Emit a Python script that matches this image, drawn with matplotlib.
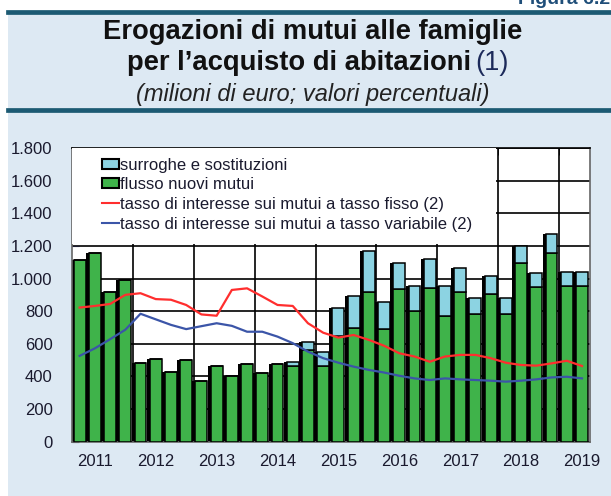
import matplotlib.pyplot as plt
from matplotlib.patches import Rectangle, Patch
from matplotlib.lines import Line2D
from matplotlib.ticker import FuncFormatter

plt.rcParams['font.family'] = ['Liberation Sans', 'DejaVu Sans']

# dati trimestrali 2011 T1 - 2019 T2
anni = ['2011', '2012', '2013', '2014', '2015', '2016', '2017', '2018', '2019']
nuovi_mutui = [1115, 1156, 920, 990, 485, 505, 430, 500,
               375, 462, 405, 477, 420, 477, 464, 565,
               464, 645, 696, 920, 690, 935, 798, 941,
               771, 920, 783, 906, 783, 1094, 947, 1156,
               955, 955]
totale = [1115, 1156, 920, 990, 485, 505, 430, 500,
          375, 462, 405, 477, 420, 477, 489, 614,
          548, 818, 894, 1166, 859, 1094, 955, 1119,
          955, 1066, 880, 1017, 880, 1200, 1033, 1274,
          1043, 1043]
surroghe = [t - n for t, n in zip(totale, nuovi_mutui)]
tasso_fisso = [4.11, 4.16, 4.22, 4.50, 4.55, 4.37, 4.35, 4.19,
               3.90, 3.86, 4.65, 4.70, 4.45, 4.19, 4.16, 3.63,
               3.34, 3.19, 3.27, 3.12, 2.94, 2.71, 2.61, 2.45,
               2.61, 2.66, 2.66, 2.56, 2.42, 2.35, 2.33, 2.40,
               2.48, 2.32]
tasso_variabile = [2.63, 2.86, 3.14, 3.43, 3.92, 3.75, 3.58, 3.45,
                   3.54, 3.63, 3.55, 3.37, 3.37, 3.22, 3.02, 2.76,
                   2.56, 2.42, 2.30, 2.20, 2.12, 2.02, 1.94, 1.89,
                   1.94, 1.91, 1.89, 1.87, 1.84, 1.87, 1.91, 1.97,
                   1.99, 1.94]

verde = '#3fb34a'
azzurro = '#8cd3e2'
rosso = '#ff2e2e'
blu = '#3b55a8'
sfondo = '#dde9f3'

fig = plt.figure(figsize=(6.11, 4.96), dpi=100)
fig.patch.set_facecolor('white')
fig.patches.append(Rectangle((8 / 611, 0), 1, 1 - 12 / 496, transform=fig.transFigure,
                             facecolor=sfondo, edgecolor='none', zorder=-5))
for yy in [1 - 12 / 496, 1 - 109.5 / 496]:
    fig.add_artist(Line2D([8 / 611, 1], [yy, yy], color='#1c5a73', lw=3.4))

fig.text(518 / 611, 1 + 1 / 496, 'Figura 6.2', fontsize=14, fontweight='bold',
         color='#1f4e79', ha='left', va='center')
fig.text(313 / 611, 1 - 32 / 496, 'Erogazioni di mutui alle famiglie', fontsize=19.7,
         fontweight='bold', ha='center', va='center', color='#111111')
fig.text(471 / 611, 1 - 63 / 496, 'per l’acquisto di abitazioni', fontsize=19.7,
         fontweight='bold', ha='right', va='center', color='#111111')
fig.text(475 / 611, 1 - 63 / 496, '(1)', fontsize=19.7, ha='left', va='center', color='#1c2a5a')
fig.text(313 / 611, 1 - 94 / 496, '(milioni di euro; valori percentuali)', fontsize=17,
         style='italic', ha='center', va='center', color='#222222')

ax = fig.add_axes([72 / 611, 1 - 441.7 / 496, (589.6 - 72) / 611, (441.7 - 148) / 496])
ax.set_facecolor('white')
x = list(range(len(nuovi_mutui)))
w = 0.78

# ombra nera dietro le barre
ax.bar([i - 0.2 for i in x], totale, width=w, color='black', zorder=2)
ax.bar(x, nuovi_mutui, width=w, color=verde, edgecolor='black', linewidth=1.1, zorder=3)
ax.bar(x, surroghe, bottom=nuovi_mutui, width=w, color=azzurro, edgecolor='black',
       linewidth=1.1, zorder=3)

ax.set_xlim(-0.5, len(x) - 0.5)
ax.set_ylim(0, 1800)
ax.set_yticks(range(0, 1801, 200))
ax.yaxis.set_major_formatter(FuncFormatter(lambda v, p: f'{int(v):,}'.replace(',', '.')))
ax.set_xticks([1 + 4 * k for k in range(len(anni))])
ax.set_xticklabels(anni)
ax.set_xticks([3.5 + 4 * k for k in range(8)], minor=True)
ax.tick_params(axis='x', which='major', length=0, labelsize=12, pad=9, colors='#1a1a2e')
ax.tick_params(axis='x', which='minor', direction='in', length=5, top=True, bottom=False)
ax.tick_params(axis='y', direction='in', length=5, labelsize=12, pad=14, colors='#1a1a2e')
ax.grid(axis='x', which='minor', color='black', lw=1.2, zorder=1)
ax.grid(axis='y', which='major', color='black', lw=1.2, zorder=1)
ax.set_axisbelow(True)
for s in ax.spines.values():
    s.set_color('#666666')
    s.set_linewidth(1.2)
ax.spines['top'].set_color('black')

ax2 = ax.twinx()
ax2.plot(x, tasso_fisso, color=rosso, lw=1.6, zorder=4)
ax2.plot(x, tasso_variabile, color=blu, lw=1.6, zorder=4)
ax2.set_ylim(0, 9)
ax2.set_yticks(range(0, 10))
ax2.tick_params(axis='y', length=0, labelsize=12, pad=15, colors='#1a1a2e')
for s in ax2.spines.values():
    s.set_visible(False)

ax2.add_patch(Rectangle((0, 0.672), 0.82, 0.328, transform=ax2.transAxes,
                        facecolor='white', edgecolor='none', zorder=5))
handles = [
    Patch(facecolor=azzurro, edgecolor='black', linewidth=1.5),
    Patch(facecolor=verde, edgecolor='black', linewidth=1.5),
    Line2D([], [], color=rosso, lw=1.5),
    Line2D([], [], color=blu, lw=1.5),
]
labels = ['surroghe e sostituzioni', 'flusso nuovi mutui',
          'tasso di interesse sui mutui a tasso fisso (2)',
          'tasso di interesse sui mutui a tasso variabile (2)']
leg = ax2.legend(handles, labels, loc='upper left', bbox_to_anchor=(0.045, 0.99),
                 frameon=False, fontsize=12, handlelength=1.0, handleheight=0.55,
                 handletextpad=0.1, labelspacing=0.28, borderaxespad=0,
                 labelcolor='#1a1a2e')
leg.set_zorder(6)

fig.savefig('out.png', dpi=100)
